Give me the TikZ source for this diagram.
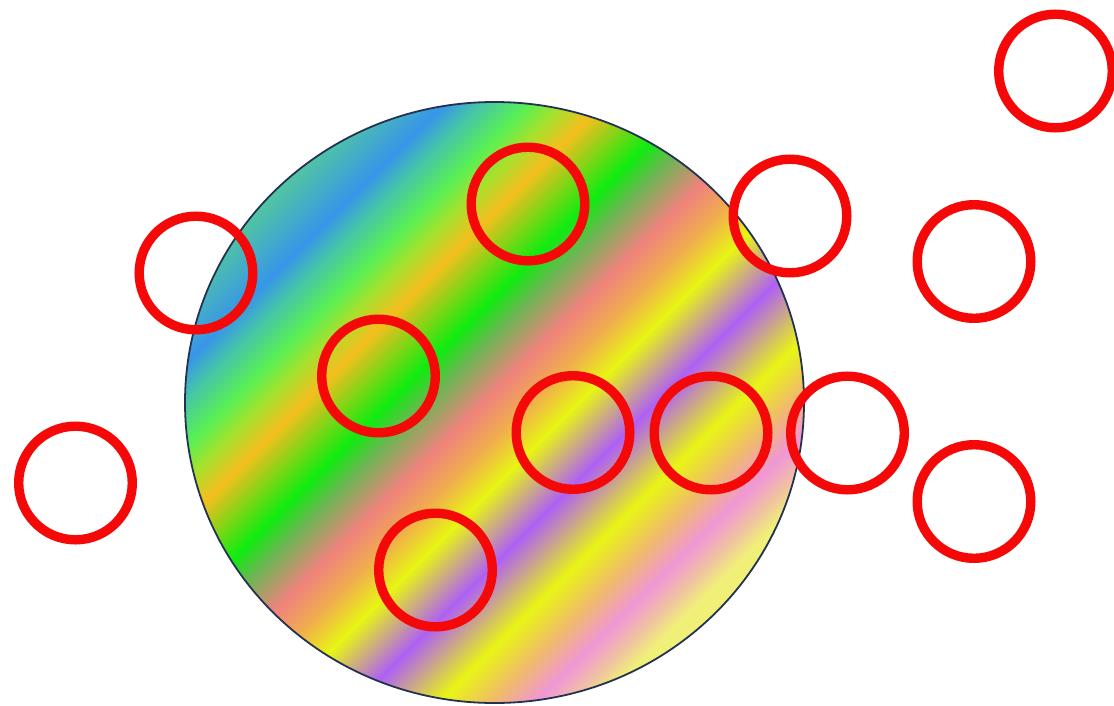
\documentclass[tikz,border=0pt]{standalone}
\usepackage{xcolor}
\usepackage{tikz}

\definecolor{ringred}{RGB}{244,8,8}
\definecolor{rimnavy}{RGB}{35,50,80}
\definecolor{stMint}{RGB}{95,222,125}
\definecolor{stBlue}{RGB}{55,150,232}
\definecolor{stTeal}{RGB}{70,195,170}
\definecolor{stLime}{RGB}{88,240,85}
\definecolor{stChart}{RGB}{165,225,45}
\definecolor{stAmber}{RGB}{245,190,30}
\definecolor{stGreen}{RGB}{15,236,15}
\definecolor{stOlive}{RGB}{112,180,85}
\definecolor{stSalmon}{RGB}{240,130,125}
\definecolor{stOrange}{RGB}{240,175,75}
\definecolor{stYellow}{RGB}{232,246,20}
\definecolor{stPurple}{RGB}{175,95,245}
\definecolor{stPeach}{RGB}{240,185,110}
\definecolor{stPink}{RGB}{240,150,215}
\definecolor{stBeige}{RGB}{240,195,160}
\definecolor{stPale}{RGB}{240,240,120}

% stripes run at 45 degrees; positions fitted for a 700 wide square
\pgfdeclarehorizontalshading{rainbowstripes}{100bp}{%
  color(0bp)=(stMint); color(26bp)=(stMint);
  color(32.3bp)=(stBlue); color(34bp)=(stTeal);
  color(36.5bp)=(stLime); color(38.3bp)=(stChart);
  color(40.3bp)=(stAmber); color(44.6bp)=(stGreen);
  color(46.6bp)=(stOlive); color(49.4bp)=(stSalmon);
  color(51.9bp)=(stOrange); color(54.3bp)=(stYellow);
  color(58.2bp)=(stPurple); color(62.4bp)=(stYellow);
  color(65.1bp)=(stPeach); color(67.3bp)=(stPink);
  color(69.1bp)=(stBeige); color(70.5bp)=(stPale);
  color(100bp)=(stPale)}

\begin{document}
\begin{tikzpicture}[x=0.25mm, y=0.25mm,
    ring/.style={circle, draw=ringred, line width=2.35mm, minimum size=28.4mm, inner sep=0pt},
    rim/.style={draw=rimnavy, line width=0.45mm}
]
\useasboundingbox (0,0) rectangle (1114,705);
\coordinate (disc) at (494.5,302.5);

% striped disc
\begin{scope}
  \clip (disc) ellipse [x radius=309.5, y radius=300.5];
  \shade[shading=rainbowstripes, shading angle=-45] (144.5,-47.5) rectangle (844.5,652.5);
\end{scope}
\draw[rim] (disc) ellipse [x radius=309.5, y radius=300.5];

% rings
\node[ring] (ring1) at (1055.5,634) {};
\node[ring] (ring2) at (528,501) {};
\node[ring] (ring3) at (790,489) {};
\node[ring] (ring4) at (974,443.5) {};
\node[ring] (ring5) at (196,432) {};
\node[ring] (ring6) at (378.5,329) {};
\node[ring] (ring7) at (573,272.5) {};
\node[ring] (ring8) at (711,272) {};
\node[ring] (ring9) at (847.5,272) {};
\node[ring] (ring10) at (75.5,222) {};
\node[ring] (ring11) at (974,203.5) {};
\node[ring] (ring12) at (435.5,135) {};
\end{tikzpicture}
\end{document}
